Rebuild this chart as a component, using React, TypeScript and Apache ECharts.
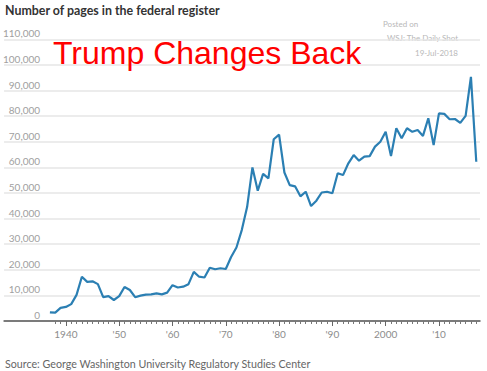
import React, { useEffect, useRef } from "react";
import * as echarts from "echarts";

const years: number[] = [
  1937, 1938, 1939, 1940, 1941, 1942, 1943, 1944, 1945, 1946,
  1947, 1948, 1949, 1950, 1951, 1952, 1953, 1954, 1955, 1956,
  1957, 1958, 1959, 1960, 1961, 1962, 1963, 1964, 1965, 1966,
  1967, 1968, 1969, 1970, 1971, 1972, 1973, 1974, 1975, 1976,
  1977, 1978, 1979, 1980, 1981, 1982, 1983, 1984, 1985, 1986,
  1987, 1988, 1989, 1990, 1991, 1992, 1993, 1994, 1995, 1996,
  1997, 1998, 1999, 2000, 2001, 2002, 2003, 2004, 2005, 2006,
  2007, 2008, 2009, 2010, 2011, 2012, 2013, 2014, 2015, 2016,
  2017,
];

const pages: number[] = [
  3400, 3250, 5100, 5500, 6600, 10200, 17300, 15300, 15500, 14400,
  9300, 9700, 8200, 9700, 13300, 12100, 9300, 9900, 10300, 10400,
  10800, 10400, 11100, 14000, 13100, 13400, 14400, 19200, 17300, 17000,
  20800, 20200, 20600, 20300, 25000, 28700, 35500, 44500, 60000, 50900,
  57500, 55700, 71000, 72800, 58000, 53100, 52600, 48700, 50500, 44900,
  47000, 50200, 50500, 49900, 57700, 57000, 61600, 64800, 62600, 64200,
  64400, 68100, 70000, 73900, 64400, 75300, 71400, 75300, 73900, 74600,
  72300, 79200, 68700, 81100, 80900, 78800, 78900, 77400, 80100, 95400,
  62200,
];

const labelYears: number[] = [1940, 1950, 1960, 1970, 1980, 1990, 2000, 2010];
const decadeTicks: number[] = [1940, 1950, 1960, 1970, 1980, 1990, 2000, 2010];
const yearTicks: number[] = [
  1938, 1939, 1940, 1941, 1942, 1943, 1944, 1945, 1946, 1947, 1948, 1949,
  1950, 1951, 1952, 1953, 1954, 1955, 1956, 1957, 1958, 1959, 1960, 1961,
  1962, 1963, 1964, 1965, 1966, 1967, 1968, 1969, 1970, 1971, 1972, 1973,
  1974, 1975, 1976, 1977, 1978, 1979, 1980, 1981, 1982, 1983, 1984, 1985,
  1986, 1987, 1988, 1989, 1990, 1991, 1992, 1993, 1994, 1995, 1996, 1997,
  1998, 1999, 2000, 2001, 2002, 2003, 2004, 2005, 2006, 2007, 2008, 2009,
  2010, 2011, 2012, 2013, 2014, 2015, 2016, 2017,
];

const titleText = "Number of pages in the federal register";
const overlayText = "Trump Changes Back";
const postedLines: string[] = ["Posted on", "WSJ: The Daily Shot", "19-Jul-2018"];
const sourceText = "Source: George Washington University Regulatory Studies Center";

const FONT = "Lato, 'Open Sans', sans-serif";

export default function App() {
  const ref = useRef<HTMLDivElement>(null);

  useEffect(() => {
    if (!ref.current) return;
    const chart = echarts.init(ref.current, undefined, { renderer: "svg" });
    const data = years.map((y, i) => [y, pages[i]]);
    chart.setOption({
      animation: false,
      backgroundColor: "#ffffff",
      grid: { left: 3, right: 7, top: 39.4, bottom: 50, containLabel: false },
      xAxis: [
        {
          type: "value",
          min: 1928.4,
          max: 2017.7,
          position: "bottom",
          axisLine: { show: true, lineStyle: { color: "#555555", width: 1.5 } },
          axisTick: {
            show: true,
            customValues: yearTicks,
            length: 3,
            lineStyle: { color: "#777777", width: 1 },
          },
          axisLabel: {
            customValues: labelYears,
            formatter: (v: number) =>
              v === 1940 || v === 2000 ? String(v) : "'" + String(v).slice(2),
            color: "#8c8c8c",
            fontSize: 10,
            fontFamily: FONT,
            margin: 8,
          },
          splitLine: { show: false },
        },
        {
          type: "value",
          min: 1928.4,
          max: 2017.7,
          position: "bottom",
          axisLine: { show: false },
          axisTick: {
            show: true,
            customValues: decadeTicks,
            length: 5,
            lineStyle: { color: "#666666", width: 1 },
          },
          axisLabel: { show: false },
          splitLine: { show: false },
        },
      ],
      yAxis: {
        type: "value",
        min: 0,
        max: 110000,
        interval: 10000,
        axisLine: { show: false },
        axisTick: { show: false },
        splitLine: { show: true, lineStyle: { color: "#e6e6e6", width: 1.5 } },
        axisLabel: {
          inside: true,
          margin: 36,
          align: "right",
          verticalAlign: "bottom",
          padding: [0, 0, 1, 0],
          color: "#a0a0a0",
          fontSize: 10,
          fontFamily: FONT,
          formatter: (v: number) => v.toLocaleString("en-US"),
        },
      },
      series: [
        {
          type: "line",
          xAxisIndex: 0,
          data,
          showSymbol: false,
          symbol: "none",
          lineStyle: { color: "#2b7fb3", width: 2.2 },
          z: 5,
        },
      ],
      graphic: [
        {
          type: "text",
          left: 5,
          top: 4,
          style: {
            text: titleText,
            font: `bold 12.4px ${FONT}`,
            fill: "#333333",
          },
        },
        {
          type: "text",
          x: 53,
          y: 52.5,
          style: {
            text: overlayText,
            fontFamily: "'Liberation Sans', Arial, sans-serif",
            fontSize: 32,
            fill: "#ff0000",
            textAlign: "left",
            textVerticalAlign: "middle",
          },
          z: 10,
        },
        {
          type: "text",
          x: 383,
          y: 24,
          style: {
            text: postedLines[0],
            fontFamily: FONT,
            fontSize: 8,
            fill: "#b8b8b8",
            textAlign: "left",
            textVerticalAlign: "middle",
          },
        },
        {
          type: "text",
          x: 458,
          y: 38,
          style: {
            text: postedLines[1],
            fontFamily: FONT,
            fontSize: 8,
            fill: "#b8b8b8",
            textAlign: "right",
            textVerticalAlign: "middle",
          },
        },
        {
          type: "text",
          x: 458,
          y: 52.5,
          style: {
            text: postedLines[2],
            fontFamily: FONT,
            fontSize: 8,
            fill: "#b8b8b8",
            textAlign: "right",
            textVerticalAlign: "middle",
          },
        },
        {
          type: "text",
          x: 5,
          y: 363,
          style: {
            text: sourceText,
            fontFamily: FONT,
            fontSize: 10.7,
            fill: "#666666",
            textAlign: "left",
            textVerticalAlign: "middle",
          },
        },
      ],
    });
    return () => chart.dispose();
  }, []);

  return (
    <div
      ref={ref}
      style={{ position: "absolute", left: 0, top: 0, width: 487, height: 371 }}
    />
  );
}
